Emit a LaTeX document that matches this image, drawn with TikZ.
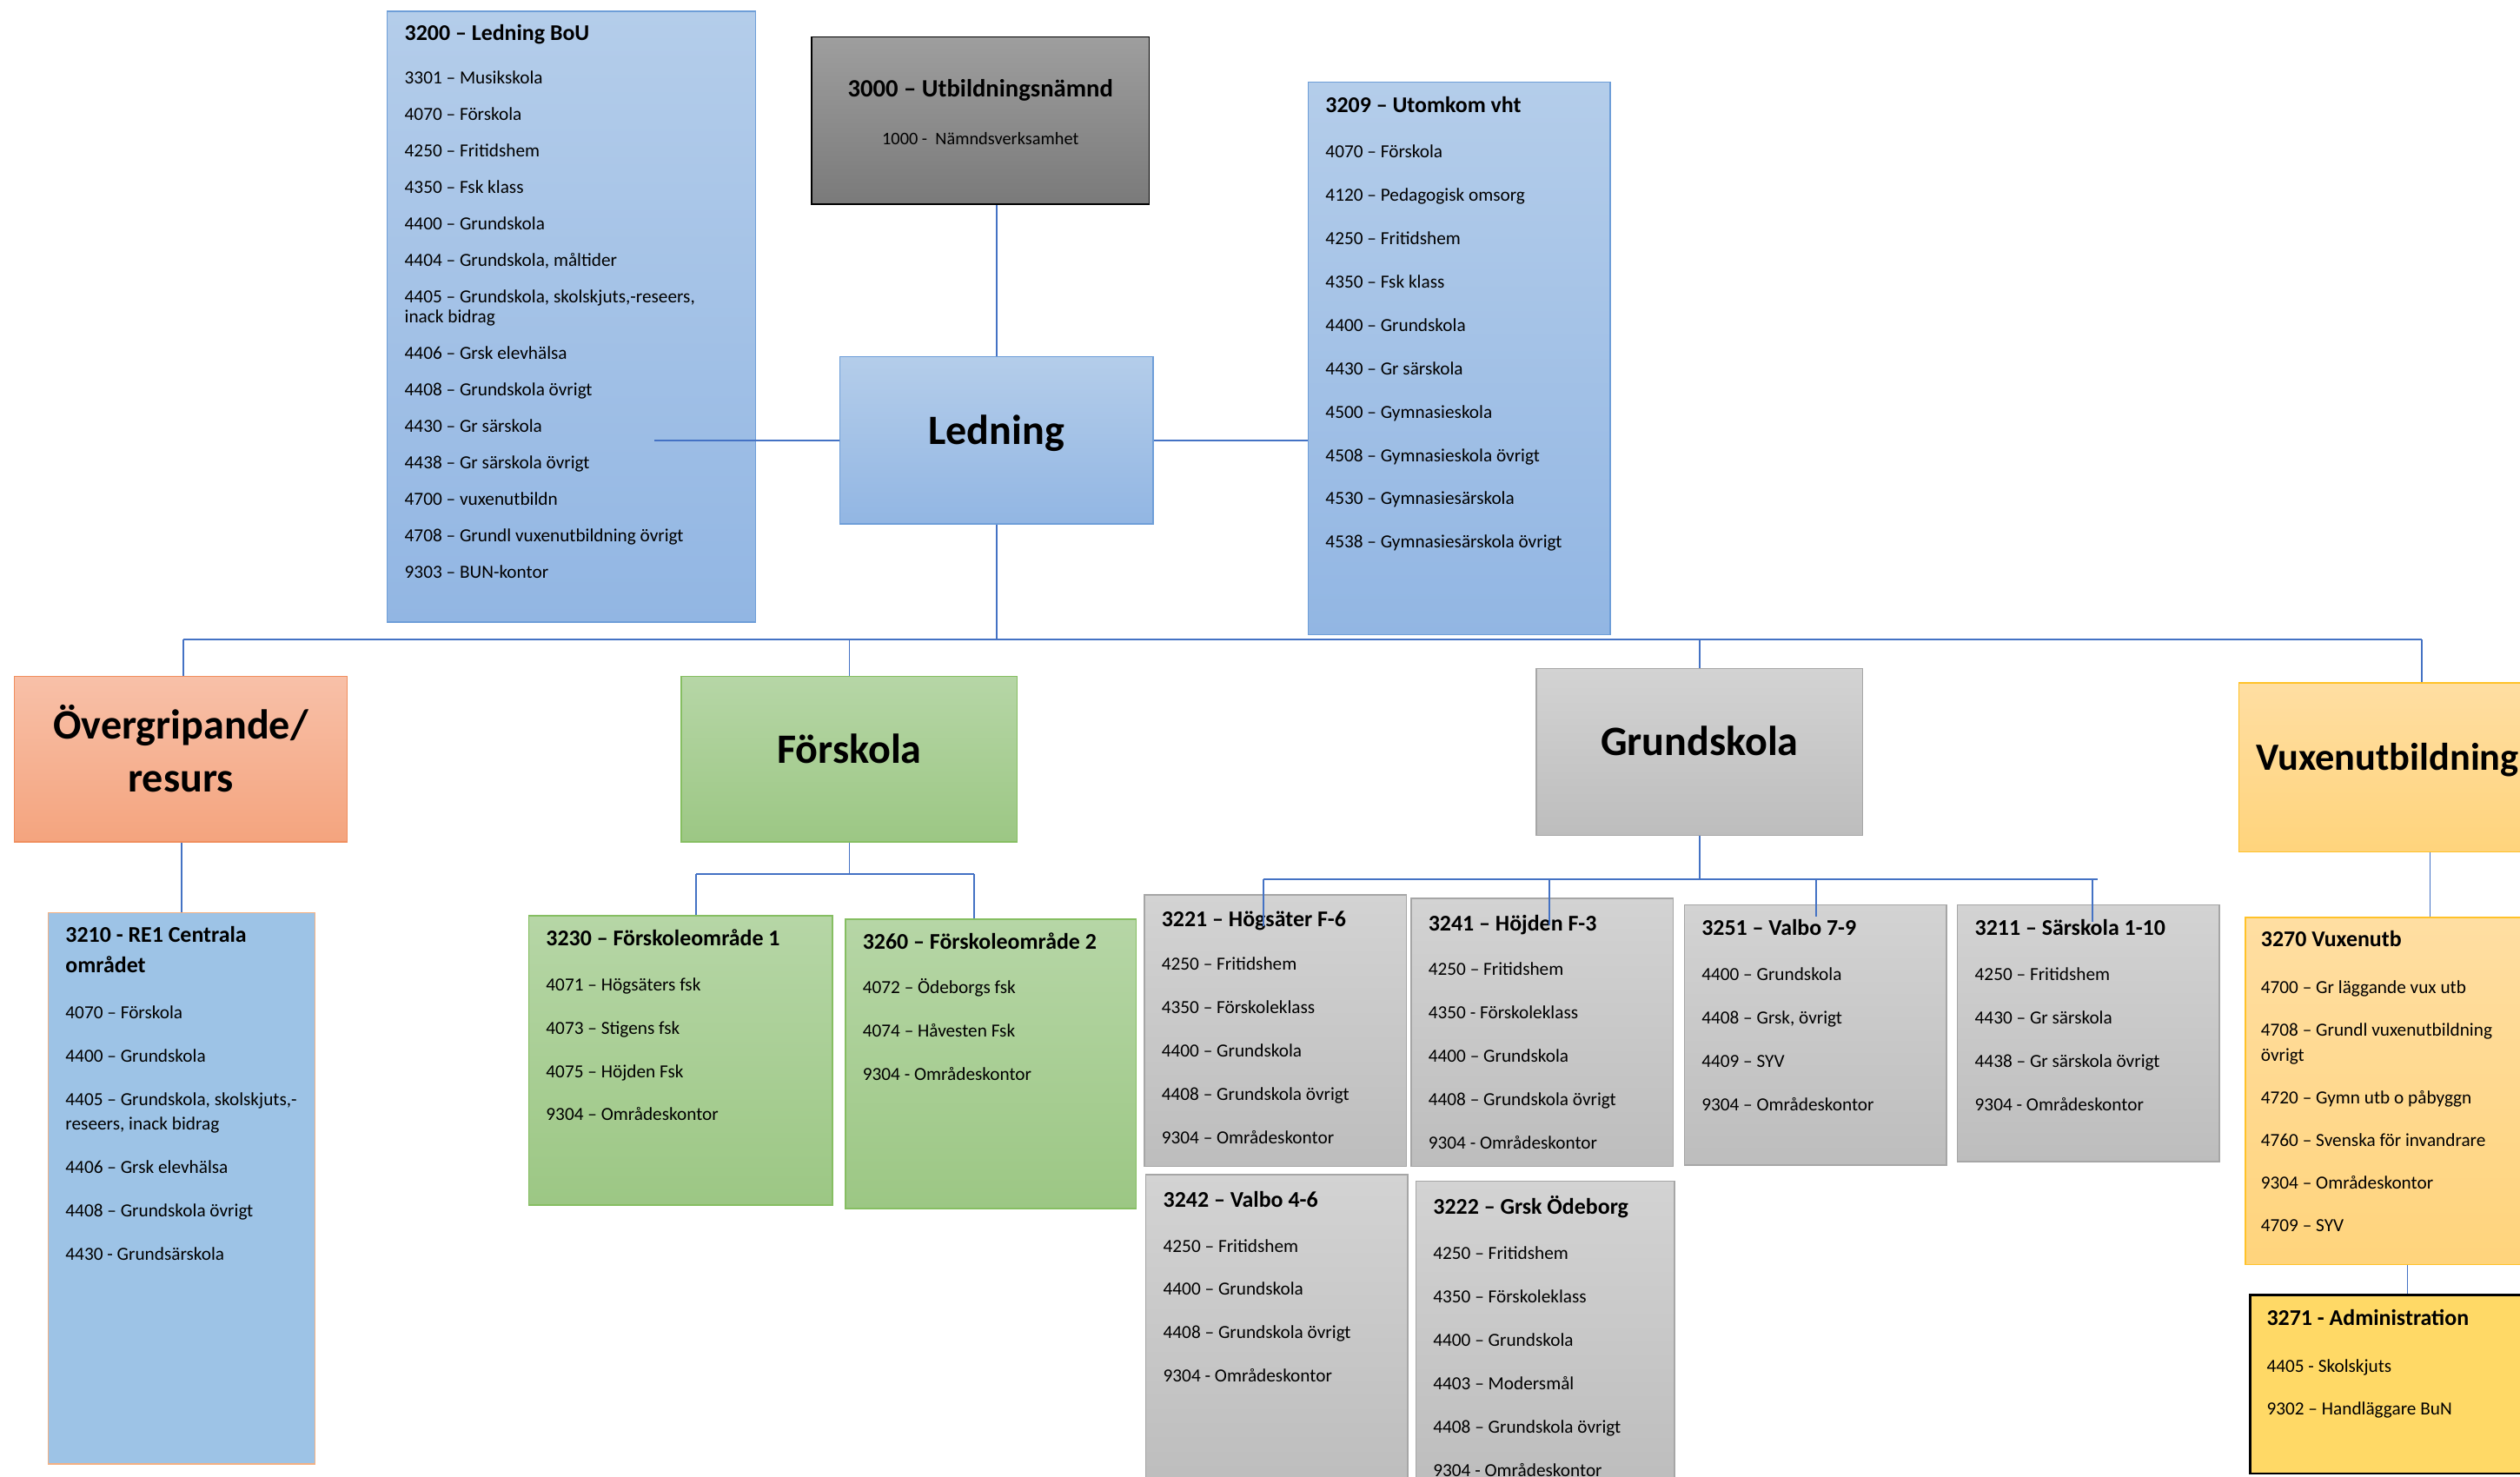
\documentclass[tikz,border=0pt]{standalone}
\usepackage{fontspec}
\setmainfont{Carlito}
\usetikzlibrary{positioning}

\definecolor{bluetop}{HTML}{B4CDEA}
\definecolor{bluebot}{HTML}{92B6E3}
\definecolor{blueline}{HTML}{6E9ED8}
\definecolor{darktop}{HTML}{9E9E9E}
\definecolor{darkbot}{HTML}{7A7A7A}
\definecolor{salmontop}{HTML}{F8C0A8}
\definecolor{salmonbot}{HTML}{F4A47E}
\definecolor{salmonline}{HTML}{F08E5E}
\definecolor{greentop}{HTML}{B6D6A6}
\definecolor{greenbot}{HTML}{9CC784}
\definecolor{greenline}{HTML}{86BE62}
\definecolor{greytop}{HTML}{D3D3D3}
\definecolor{greybot}{HTML}{BDBDBD}
\definecolor{greyline}{HTML}{A6A6A6}
\definecolor{vuxtop}{HTML}{FFDEA2}
\definecolor{vuxbot}{HTML}{FFD47C}
\definecolor{vuxline}{HTML}{FFC229}
\definecolor{re1fill}{HTML}{9DC3E6}
\definecolor{re1line}{HTML}{F4B183}
\definecolor{admfill}{HTML}{FFD966}
\definecolor{connline}{HTML}{4472C4}

\tikzstyle{unitbox} = [rectangle, inner sep=0pt, line width=0.8pt]
\tikzstyle{bluebox} = [unitbox, draw=blueline, top color=bluetop, bottom color=bluebot]
\tikzstyle{darkbox} = [unitbox, draw=black, top color=darktop, bottom color=darkbot]
\tikzstyle{salmonbox} = [unitbox, draw=salmonline, top color=salmontop, bottom color=salmonbot]
\tikzstyle{greenbox} = [unitbox, draw=greenline, top color=greentop, bottom color=greenbot]
\tikzstyle{greybox} = [unitbox, draw=greyline, top color=greytop, bottom color=greybot]
\tikzstyle{vuxbox} = [unitbox, draw=vuxline, top color=vuxtop, bottom color=vuxbot]
\tikzstyle{re1box} = [unitbox, draw=re1line, fill=re1fill]
\tikzstyle{admbox} = [unitbox, draw=black, line width=1.6pt, fill=admfill]
\tikzstyle{headbox} = [align=center, font=\bfseries\fontsize{26}{33}\selectfont, text depth=13.5pt]
\tikzstyle{unitlist} = [align=left, inner sep=0pt, font=\fontsize{11.5}{27}\selectfont]
\tikzstyle{conn} = [draw=connline, line width=0.9pt]
\newcommand{\unittitle}[1]{{\fontsize{14}{17}\selectfont\bfseries #1}}

\begin{document}
\begin{tikzpicture}[x=1pt, y=-1pt]
\useasboundingbox (0,0) rectangle (1568,919);
\clip (0,0) rectangle (1568,919);

\node (ledbou) [bluebox, minimum width=229, minimum height=380] at (355.5,197) {};
\node (ledbouList) [unitlist, font=\fontsize{11.5}{22.7}\selectfont, below right=8.5pt and 11pt of ledbou.north west] {\unittitle{3200 – Ledning BoU}\\[4.3pt]
3301 – Musikskola\\
4070 – Förskola\\
4250 – Fritidshem\\
4350 – Fsk klass\\
4400 – Grundskola\\
4404 – Grundskola, måltider\\
4405 – Grundskola, skolskjuts,-reseers,\\[-10.2pt]
inack bidrag\\
4406 – Grsk elevhälsa\\
4408 – Grundskola övrigt\\
4430 – Gr särskola\\
4438 – Gr särskola övrigt\\
4700 – vuxenutbildn\\
4708 – Grundl vuxenutbildning övrigt\\
9303 – BUN-kontor};

\node (unamnd) [darkbox, align=center, font=\fontsize{11}{30}\selectfont, text depth=10.5pt, minimum width=210, minimum height=104] at (610,75) {{\fontsize{15.5}{18}\selectfont\bfseries 3000 – Utbildningsnämnd}\\1000 -\ \ Nämndsverksamhet};
\node (ledning) [bluebox, headbox, minimum width=195, minimum height=104] at (620,274) {Ledning};

\node (utomkom) [bluebox, minimum width=188, minimum height=344] at (908,223) {};
\node (utomkomList) [unitlist, below right=9.5pt and 11pt of utomkom.north west] {\unittitle{3209 – Utomkom vht}\\[1pt]
4070 – Förskola\\
4120 – Pedagogisk omsorg\\
4250 – Fritidshem\\
4350 – Fsk klass\\
4400 – Grundskola\\
4430 – Gr särskola\\
4500 – Gymnasieskola\\
4508 – Gymnasieskola övrigt\\
4530 – Gymnasiesärskola\\
4538 – Gymnasiesärskola övrigt};

\node (overgr) [salmonbox, headbox, minimum width=207, minimum height=103] at (112.5,472.5) {Övergripande/\\resurs};
\node (forskola) [greenbox, headbox, minimum width=209, minimum height=103] at (528.5,472.5) {Förskola};
\node (grund) [greybox, headbox, minimum width=203, minimum height=104] at (1057.5,468) {Grundskola};
\node (vuxen) [vuxbox, headbox, font=\bfseries\fontsize{24}{30}\selectfont, minimum width=185, minimum height=105] at (1485.5,477.5) {Vuxenutbildning};

\node (re1) [re1box, minimum width=166, minimum height=343] at (113,739.5) {};
\node (re1List) [unitlist, below right=8.5pt and 11pt of re1.north west] {\unittitle{3210 - RE1 Centrala}\\[-8pt]
\unittitle{området}\\[2pt]
4070 – Förskola\\
4400 – Grundskola\\
4405 – Grundskola, skolskjuts,-\\[-12pt]
reseers, inack bidrag\\
4406 – Grsk elevhälsa\\
4408 – Grundskola övrigt\\
4430 - Grundsärskola};

\node (fo1) [greenbox, minimum width=189, minimum height=180] at (423.5,660) {};
\node (fo1List) [unitlist, below right=8.5pt and 11pt of fo1.north west] {\unittitle{3230 – Förskoleområde 1}\\[1pt]
4071 – Högsäters fsk\\
4073 – Stigens fsk\\
4075 – Höjden Fsk\\
9304 – Områdeskontor};

\node (fo2) [greenbox, minimum width=181, minimum height=180] at (616.5,662) {};
\node (fo2List) [unitlist, below right=8.5pt and 11pt of fo2.north west] {\unittitle{3260 – Förskoleområde 2}\\[1pt]
4072 – Ödeborgs fsk\\
4074 – Håvesten Fsk\\
9304 - Områdeskontor};

\node (hogsater) [greybox, minimum width=163, minimum height=169] at (793.5,641.5) {};
\node (hogsaterList) [unitlist, below right=10.5pt and 11pt of hogsater.north west] {\unittitle{3221 – Högsäter F-6}\\
4250 – Fritidshem\\
4350 – Förskoleklass\\
4400 – Grundskola\\
4408 – Grundskola övrigt\\
9304 – Områdeskontor};

\node (hojden) [greybox, minimum width=163, minimum height=167] at (959.5,642.5) {};
\node (hojdenList) [unitlist, below right=10.5pt and 11pt of hojden.north west] {\unittitle{3241 – Höjden F-3}\\[1pt]
4250 – Fritidshem\\
4350 - Förskoleklass\\
4400 – Grundskola\\
4408 – Grundskola övrigt\\
9304 - Områdeskontor};

\node (valbo79) [greybox, minimum width=163, minimum height=162] at (1129.5,644) {};
\node (valbo79List) [unitlist, below right=9.5pt and 11pt of valbo79.north west] {\unittitle{3251 – Valbo 7-9}\\[1pt]
4400 – Grundskola\\
4408 – Grsk, övrigt\\
4409 – SYV\\
9304 – Områdeskontor};

\node (sarskola) [greybox, minimum width=163, minimum height=160] at (1299.5,643) {};
\node (sarskolaList) [unitlist, below right=9.5pt and 11pt of sarskola.north west] {\unittitle{3211 – Särskola 1-10}\\[1pt]
4250 – Fritidshem\\
4430 – Gr särskola\\
4438 – Gr särskola övrigt\\
9304 - Områdeskontor};

\node (valbo46) [greybox, minimum width=163, minimum height=194] at (794.5,828) {};
\node (valbo46List) [unitlist, below right=10.5pt and 11pt of valbo46.north west] {\unittitle{3242 – Valbo 4-6}\\[1pt]
4250 – Fritidshem\\
4400 – Grundskola\\
4408 – Grundskola övrigt\\
9304 - Områdeskontor};

\node (odeborg) [greybox, minimum width=161, minimum height=190] at (961.5,830) {};
\node (odeborgList) [unitlist, below right=9.5pt and 11pt of odeborg.north west] {\unittitle{3222 – Grsk Ödeborg}\\[1pt]
4250 – Fritidshem\\
4350 – Förskoleklass\\
4400 – Grundskola\\
4403 – Modersmål\\
4408 – Grundskola övrigt\\
9304 - Områdeskontor};

\node (vux70) [vuxbox, minimum width=230, minimum height=216] at (1512,679) {};
\node (vux70List) [unitlist, font=\fontsize{11.5}{26.5}\selectfont, below right=8.5pt and 10pt of vux70.north west] {\unittitle{3270 Vuxenutb}\\[2.5pt]
4700 – Gr läggande vux utb\\
4708 – Grundl vuxenutbildning\\[-10.5pt]
övrigt\\
4720 – Gymn utb o påbyggn\\
4760 – Svenska för invandrare\\
9304 – Områdeskontor\\
4709 – SYV};

\node (adm) [admbox, minimum width=196, minimum height=111] at (1498,861.5) {};
\node (admList) [unitlist, below right=9.5pt and 11pt of adm.north west] {\unittitle{3271 - Administration}\\[2pt]
4405 - Skolskjuts\\
9302 – Handläggare BuN};

\coordinate (bouend) at (407,272);
\coordinate (busl) at (114,398);
\coordinate (busr) at (1507,398);
\coordinate (fbusl) at (433,544);
\coordinate (fbusr) at (606,544);
\coordinate (gbusl) at (786,547);
\coordinate (gbus2) at (964,547);
\coordinate (gbus3) at (1130,547);
\coordinate (gbus4) at (1302,547);
\coordinate (gbusr) at (1305,547);

\draw [conn] (ledning.north) -- (ledning.north |- unamnd.south);
\draw [conn] (ledning.west) -- (ledning.west -| bouend);
\draw [conn] (ledning.east) -- (ledning.east -| utomkom.west);
\draw [conn] (ledning.south) -- (ledning.south |- busl);
\draw [conn] (busl) -- (busr);
\draw [conn] (busl) -- (busl |- overgr.north);
\draw [conn] (forskola.north) -- (forskola.north |- busl);
\draw [conn] (grund.north) -- (grund.north |- busl);
\draw [conn] (busr) -- (busr |- vuxen.north);

\draw [conn] (re1.north) -- (re1.north |- overgr.south);

\draw [conn] (forskola.south) -- (forskola.south |- fbusl);
\draw [conn] (fbusl) -- (fbusr);
\draw [conn] (fbusl) -- (fbusl |- fo1.north);
\draw [conn] (fbusr) -- (fbusr |- fo2.north);

\draw [conn] (grund.south) -- (grund.south |- gbusl);
\draw [conn] (gbusl) -- (gbusr);
\draw [conn, shorten >=-20pt] (gbusl) -- (gbusl |- hogsater.north);
\draw [conn, shorten >=-17pt] (gbus2) -- (gbus2 |- hojden.north);
\draw [conn, shorten >=-8pt] (gbus3) -- (gbus3 |- valbo79.north);
\draw [conn, shorten >=-11pt] (gbus4) -- (gbus4 |- sarskola.north);

\draw [conn] (vux70.north) -- (vux70.north |- vuxen.south);
\draw [conn] (adm.north) -- (adm.north |- vux70.south);

\end{tikzpicture}
\end{document}
